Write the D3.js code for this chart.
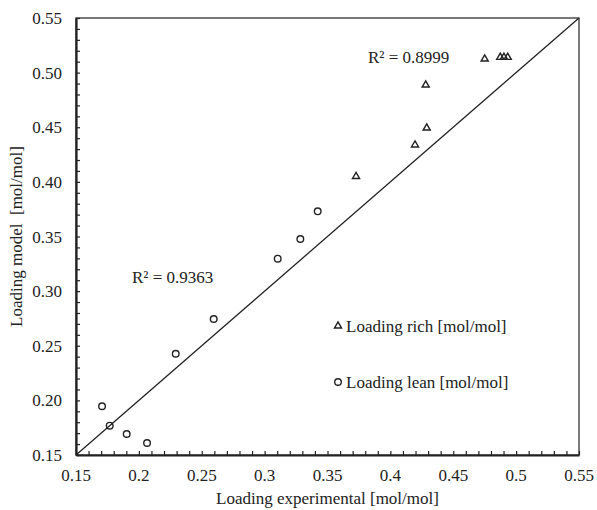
<!DOCTYPE html>
<html>
<head>
<meta charset="utf-8">
<script src="https://cdn.jsdelivr.net/npm/d3@7"></script>
<style>
  body { margin: 0; background: #fff; }
  svg text { font-family: "Liberation Serif", "Times New Roman", serif; fill: #222; }
</style>
</head>
<body>
<svg id="chart" width="597" height="510"></svg>
<script>
// lean loading (circles)
var leanExp   = [0.1707, 0.1768, 0.1903, 0.2065, 0.2293, 0.2595, 0.3104, 0.3284, 0.3422];
var leanModel = [0.1946, 0.1768, 0.1692, 0.1610, 0.2427, 0.2745, 0.3297, 0.3477, 0.3730];
// rich loading (triangles)
var richExp   = [0.3727, 0.4196, 0.4289, 0.4281, 0.4750, 0.4874, 0.4903, 0.4933];
var richModel = [0.4050, 0.4338, 0.4493, 0.4887, 0.5125, 0.5140, 0.5140, 0.5140];

var xTicks = [0.15, 0.2, 0.25, 0.3, 0.35, 0.4, 0.45, 0.5, 0.55];
var yTicks = [0.15, 0.20, 0.25, 0.30, 0.35, 0.40, 0.45, 0.50, 0.55];
var r2Labels = ["R² = 0.8999", "R² = 0.9363"];

var svg = d3.select("#chart");
var pL = 76, pR = 579, pT = 18, pB = 455;

var x = d3.scaleLinear().domain([0.15, 0.55]).range([pL, pR]);
var y = d3.scaleLinear().domain([0.15, 0.55]).range([pB, pT]);

var minor = d3.range(15, 56).map(function (d) { return d / 100; });

// frame
svg.append("rect")
  .attr("x", pL).attr("y", pT)
  .attr("width", pR - pL).attr("height", pB - pT)
  .style("fill", "none").style("stroke", "#222").style("stroke-width", 1.2);

// 1:1 line
svg.append("line")
  .attr("x1", x(0.15)).attr("y1", y(0.15))
  .attr("x2", x(0.55)).attr("y2", y(0.55))
  .style("stroke", "#222").style("stroke-width", 1.3);

// axes, ticks inward
var xAxis = svg.append("g").attr("transform", "translate(0," + pB + ")")
  .call(d3.axisBottom(x).tickValues(minor).tickSize(-4).tickSizeOuter(0).tickFormat(""));
var yAxis = svg.append("g").attr("transform", "translate(" + pL + ",0)")
  .call(d3.axisLeft(y).tickValues(minor).tickSize(-4).tickSizeOuter(0).tickFormat(""));
[xAxis, yAxis].forEach(function (a) {
  a.select(".domain").style("stroke", "#222").style("stroke-width", 2.2);
  a.selectAll(".tick line").style("stroke", "#222").style("stroke-width", 1.2);
});

svg.selectAll(".xlab").data(xTicks).enter().append("text")
  .attr("x", function (d) { return x(d); })
  .attr("y", 481)
  .attr("text-anchor", "middle")
  .style("font-size", "17px")
  .text(function (d) { return String(d); });

svg.selectAll(".ylab").data(yTicks).enter().append("text")
  .attr("x", 62)
  .attr("y", function (d) { return y(d) + 6; })
  .attr("text-anchor", "end")
  .style("font-size", "17px")
  .text(function (d) { return d.toFixed(2); });

svg.append("text")
  .attr("x", (pL + pR) / 2).attr("y", 504)
  .attr("text-anchor", "middle")
  .style("font-size", "17px")
  .text("Loading experimental [mol/mol]");

svg.append("text")
  .attr("transform", "translate(22," + (pT + pB) / 2 + ") rotate(-90)")
  .attr("text-anchor", "middle")
  .style("font-size", "17px")
  .style("white-space", "pre")
  .text("Loading model  [mol/mol]");

// markers
var tri = d3.symbol().type(d3.symbolTriangle).size(22);

svg.selectAll(".lean").data(leanExp).enter().append("circle")
  .attr("cx", function (d) { return x(d); })
  .attr("cy", function (d, i) { return y(leanModel[i]); })
  .attr("r", 3.3)
  .style("fill", "none").style("stroke", "#222").style("stroke-width", 1.4);

svg.selectAll(".rich").data(richExp).enter().append("path")
  .attr("d", tri)
  .attr("transform", function (d, i) { return "translate(" + x(d) + "," + y(richModel[i]) + ")"; })
  .style("fill", "none").style("stroke", "#222").style("stroke-width", 1.4);

// R² labels
svg.append("text").attr("x", 368).attr("y", 63).style("font-size", "17px").text(r2Labels[0]);
svg.append("text").attr("x", 132).attr("y", 283).style("font-size", "17px").text(r2Labels[1]);

// legend
svg.append("path").attr("d", tri).attr("transform", "translate(338,326)")
  .style("fill", "none").style("stroke", "#222").style("stroke-width", 1.4);
svg.append("text").attr("x", 346).attr("y", 332).style("font-size", "17px").text("Loading rich [mol/mol]");
svg.append("circle").attr("cx", 338).attr("cy", 382).attr("r", 3.3)
  .style("fill", "none").style("stroke", "#222").style("stroke-width", 1.4);
svg.append("text").attr("x", 346).attr("y", 388).style("font-size", "17px").text("Loading lean [mol/mol]");
</script>
</body>
</html>
